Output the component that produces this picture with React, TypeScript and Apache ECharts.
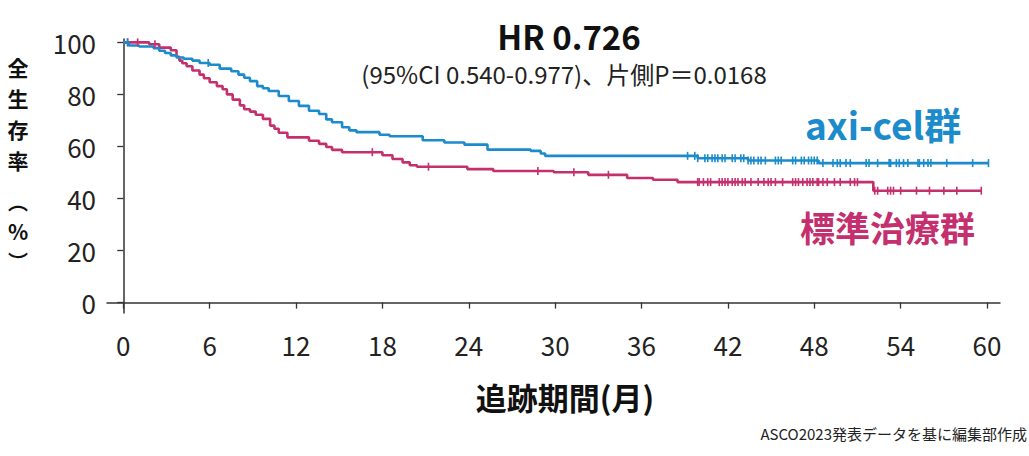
import React, { useEffect, useRef } from "react";
import * as echarts from "echarts";

const xTicks = [0, 6, 12, 18, 24, 30, 36, 42, 48, 54, 60];
const yTicks = [0, 20, 40, 60, 80, 100];

const axiTimes = [0, 0.4, 1.1, 2.1, 2.5, 2.9, 3.3, 3.7, 4.2, 4.8, 5.3, 6.0, 6.7, 7.5, 8.0, 8.4, 8.8, 9.3, 9.7, 10.1, 10.8, 11.5, 12.2, 12.9, 13.6, 14.1, 14.5, 15.2, 15.7, 16.2, 17.8, 18.5, 20.8, 22.3, 23.7, 25.3, 28.3, 29.0, 29.3, 39.9, 43.4, 48.3, 60.1];
const axiSurv = [100, 98.8, 98.4, 97.8, 96.8, 95.9, 95.0, 94.2, 93.7, 93.0, 92.1, 91.4, 89.9, 88.9, 87.6, 86.4, 85.1, 83.2, 82.4, 81.3, 79.4, 77.5, 75.6, 73.7, 72.5, 70.4, 69.3, 67.4, 66.2, 65.5, 64.5, 63.9, 62.4, 61.5, 60.7, 58.8, 58.3, 57.3, 56.4, 55.5, 54.6, 53.6, 53.6];

const socTimes = [0, 1.8, 2.5, 3.3, 3.7, 3.9, 4.1, 4.4, 4.8, 5.3, 5.6, 6.0, 6.5, 6.9, 7.2, 7.6, 8.1, 8.4, 8.8, 9.2, 9.7, 10.2, 10.5, 10.8, 11.4, 12.9, 13.6, 14.1, 14.5, 15.2, 18.0, 18.7, 19.4, 19.9, 20.4, 23.9, 25.7, 29.9, 32.3, 35.0, 36.8, 38.5, 52.1, 59.6];
const socSurv = [100, 99.3, 98.0, 97.0, 94.5, 93.0, 92.0, 90.8, 89.2, 87.6, 86.2, 84.7, 83.2, 82.0, 80.0, 78.0, 75.8, 74.3, 73.4, 72.2, 70.6, 68.0, 66.8, 65.3, 63.5, 62.2, 61.0, 59.8, 58.7, 57.8, 56.6, 55.2, 53.9, 52.8, 52.2, 51.3, 50.6, 50.1, 49.1, 47.9, 47.2, 46.3, 43.0, 43.0];

const axiCensor = [0.3, 5.9, 39.2, 39.7, 39.9, 40.4, 40.6, 40.9, 41.1, 41.3, 41.6, 41.8, 42.3, 42.5, 42.9, 43.1, 43.4, 43.6, 43.8, 44.1, 44.3, 44.6, 45.3, 45.5, 45.7, 46.5, 46.7, 47.1, 47.3, 47.6, 47.8, 48.0, 48.2, 48.6, 49.3, 49.6, 49.8, 50.2, 50.5, 51.6, 51.8, 52.4, 53.2, 53.3, 53.7, 53.9, 54.2, 54.5, 55.2, 55.3, 55.6, 55.9, 56.1, 57.2, 59.0, 60.1];
const socCensor = [0.3, 1.0, 2.2, 17.3, 21.2, 28.8, 31.3, 33.7, 39.9, 40.0, 40.3, 40.6, 40.8, 41.4, 41.6, 41.8, 42.0, 42.3, 42.5, 42.7, 43.0, 43.2, 43.6, 44.1, 44.5, 44.8, 45.0, 45.3, 45.8, 46.5, 46.7, 46.9, 47.2, 47.5, 47.7, 47.9, 48.2, 48.3, 48.6, 48.9, 49.4, 49.8, 50.5, 50.8, 51.0, 52.2, 52.4, 53.1, 53.3, 53.5, 54.0, 55.1, 56.0, 57.0, 57.9, 59.6];

const yTitleChars = ["全", "生", "存", "率", "︵", "%", "︶"];
const yTitleY = [67, 98, 129, 160, 201, 231, 261];
const yTitleSize = [21, 21, 21, 21, 20, 21, 20];

const BLUE = "#1b8bcb";
const PINK = "#c4306e";
const FONT = "'Noto Sans CJK JP', 'Noto Sans', sans-serif";

function survAt(times: number[], surv: number[], t: number) {
  let v = surv[0];
  for (let i = 0; i < times.length; i++) {
    if (times[i] <= t + 1e-9) v = surv[i];
  }
  return v;
}

export default function App() {
  const ref = useRef<HTMLDivElement>(null);
  useEffect(() => {
    const chart = echarts.init(ref.current!, null, { renderer: "svg" });
    const line = (times: number[], surv: number[], color: string, name: string) => ({
      type: "line",
      name,
      step: "end",
      showSymbol: false,
      data: times.map((t, i) => [t, surv[i]]),
      lineStyle: { color, width: 2.6 },
      itemStyle: { color },
      z: 3,
    });
    const cens = (c: number[], times: number[], surv: number[], color: string) => ({
      type: "scatter",
      symbol: "rect",
      symbolSize: [1.6, 8],
      data: c.map((t) => [t, survAt(times, surv, t)]),
      itemStyle: { color, opacity: 1 },
      z: 4,
    });
    const yTitle = yTitleChars.map((ch, i) => ({
      type: "text",
      x: 18,
      y: yTitleY[i],
      style: { text: ch, fontSize: yTitleSize[i], fontWeight: "bold", fontFamily: FONT, fill: "#111", align: "center", verticalAlign: "middle" },
    }));
    chart.setOption({
      animation: false,
      backgroundColor: "#fff",
      grid: { left: 107, right: 29, top: 39, bottom: 143 },
      xAxis: {
        type: "value",
        min: -1.13,
        max: 60.9,
        splitLine: { show: false },
        axisLine: { lineStyle: { color: "#333", width: 1.5 } },
        axisTick: { show: true, length: 6, lineStyle: { color: "#333", width: 1.3 }, customValues: xTicks },
        axisLabel: { customValues: xTicks, color: "#222", fontSize: 26, fontFamily: FONT, margin: 18 },
      },
      yAxis: {
        type: "value",
        min: -4,
        max: 101.3,
        splitLine: { show: false },
        axisLine: { show: true, lineStyle: { color: "#333", width: 1.5 } },
        axisTick: { show: true, length: 6, lineStyle: { color: "#333", width: 1.3 }, customValues: yTicks },
        axisLabel: { customValues: yTicks, color: "#222", fontSize: 26, fontFamily: FONT, margin: 11 },
      },
      series: [
        line(socTimes, socSurv, PINK, "標準治療群"),
        cens(socCensor, socTimes, socSurv, PINK),
        line(axiTimes, axiSurv, BLUE, "axi-cel群"),
        cens(axiCensor, axiTimes, axiSurv, BLUE),
      ],
      graphic: [
        { type: "text", x: 569, y: 36, style: { text: "HR 0.726", fontSize: 33, fontWeight: "bold", fontFamily: FONT, fill: "#111", align: "center", verticalAlign: "middle" } },
        { type: "text", x: 564, y: 73, style: { text: "(95%CI 0.540-0.977)、片側P＝0.0168", fontSize: 24, fontFamily: FONT, fill: "#222", align: "center", verticalAlign: "middle" } },
        { type: "text", x: 805, y: 124, style: { text: "axi-cel群", fontSize: 37, fontWeight: "bold", fontFamily: FONT, fill: BLUE, align: "left", verticalAlign: "middle" } },
        { type: "text", x: 800, y: 226, style: { text: "標準治療群", fontSize: 35, fontWeight: "bold", fontFamily: FONT, fill: PINK, align: "left", verticalAlign: "middle" } },
        ...yTitle,
        { type: "text", x: 565, y: 396, style: { text: "追跡期間(月)", fontSize: 31, fontWeight: "bold", fontFamily: FONT, fill: "#111", align: "center", verticalAlign: "middle" } },
        { type: "text", x: 1027, y: 433, style: { text: "ASCO2023発表データを基に編集部作成", fontSize: 15, fontFamily: FONT, fill: "#222", align: "right", verticalAlign: "middle" } },
      ],
    });
    return () => chart.dispose();
  }, []);
  return <div ref={ref} style={{ position: "fixed", left: 0, top: 0, width: 1029, height: 456, background: "#fff" }} />;
}
